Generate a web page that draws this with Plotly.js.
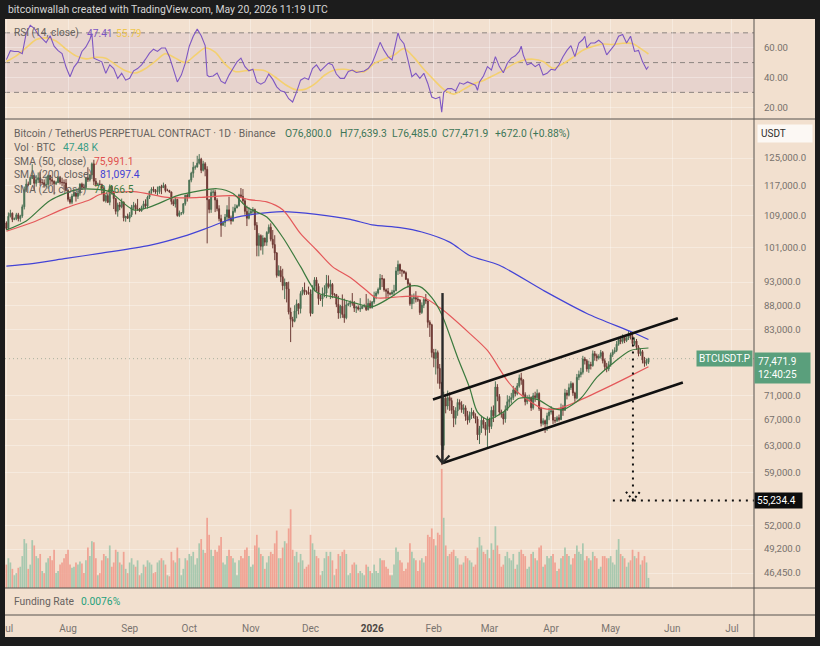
<!DOCTYPE html>
<html><head><meta charset="utf-8">
<script src="https://cdn.plot.ly/plotly-3.0.1.min.js"></script>
<style>html,body{margin:0;padding:0;background:#1c1c1c;}#chart{width:820px;height:646px;}</style>
</head><body><div id="chart"></div>
<script>
// ---------- DATA (daily candles, BTCUSDT.P, values in thousand USDT) ----------
const startDate = Date.UTC(2025, 6, 1); // first candle: 2025-07-01
const firstOpenK = 107.1;
const closeK = [
105.7,108.8,109.6,108.0,108.2,109.2,108.2,108.9,111.3,115.9,117.5,117.4,119.1,119.8,117.7,118.7,119.3,117.9,117.9,117.3,117.4,119.9,118.7,118.3,117.6,117.9,119.4,118.0,117.9,117.8,115.7,
113.3,112.5,114.2,115.0,114.1,115.0,117.5,116.6,116.5,119.3,118.7,120.1,123.3,118.3,117.4,117.5,117.4,116.3,112.9,114.3,112.5,116.9,115.4,113.5,110.1,111.8,111.3,112.6,108.4,108.8,108.3,
109.2,111.2,111.7,110.7,110.7,110.2,111.1,112.1,111.5,113.9,115.5,116.1,115.9,115.3,115.4,116.8,116.5,117.1,115.7,115.7,115.3,112.7,112.0,113.3,109.0,109.7,109.7,112.1,114.4,114.0,
118.6,120.6,122.3,122.4,123.5,124.7,121.4,123.3,121.7,113.2,110.6,115.2,115.3,113.1,110.8,108.2,106.5,107.2,108.6,110.5,108.4,107.6,110.1,111.0,111.6,114.5,114.1,112.9,110.1,108.3,109.6,
110.1,110.6,106.5,101.5,103.9,101.3,103.3,102.3,104.7,106.0,103.0,101.7,99.7,94.5,95.6,94.2,92.2,92.9,91.5,86.6,85.1,84.7,86.8,88.3,87.3,90.5,91.3,90.9,90.8,90.4,
86.3,91.3,93.5,92.1,89.4,89.3,90.4,90.6,92.7,92.0,92.5,90.3,90.3,88.2,86.4,87.8,86.1,85.4,88.1,88.3,88.6,88.5,87.4,87.6,87.2,87.3,87.8,87.8,87.1,88.4,87.5,
88.7,90.0,90.6,91.4,93.8,93.7,91.3,91.0,90.5,90.4,90.8,91.1,95.5,97.0,95.6,95.5,95.1,93.6,92.6,88.3,89.4,89.6,89.3,89.1,86.5,88.0,89.2,88.9,84.5,84.0,78.6,
77.5,78.6,75.7,73.0,63.0,70.5,69.2,70.6,70.1,68.5,67.2,68.4,69.8,69.4,68.6,68.9,67.5,66.9,67.8,68.2,67.6,67.1,64.6,65.6,66.9,66.2,65.4,67.0,
65.9,68.5,67.6,72.4,70.8,68.2,67.9,67.1,68.6,69.9,70.3,70.6,71.9,71.3,72.6,74.0,73.6,71.1,69.9,70.4,70.6,68.9,70.9,70.6,71.3,68.8,66.4,66.8,66.3,67.6,68.2,
68.4,66.9,66.8,67.3,67.0,68.9,68.5,71.4,71.0,72.3,73.0,71.4,70.5,74.1,74.6,75.0,77.4,77.1,75.6,76.4,76.2,78.4,78.0,77.6,77.9,78.6,77.1,76.0,75.6,76.4,
78.2,78.7,79.0,80.2,81.1,80.7,81.5,80.9,81.4,82.2,81.7,80.3,80.8,79.6,78.4,78.8,77.2,76.6,76.8,77.4719];
const highK = [
107.5,109.8,110.5,109.8,108.5,109.7,109.7,109.2,111.9,116.8,118.9,118.2,119.5,123.2,119.9,120.0,120.8,120.9,118.9,118.8,119.7,120.2,120.1,119.5,118.5,118.4,119.8,119.8,119.3,118.8,118.9,
116.1,114.0,114.8,115.7,115.1,115.7,117.7,117.9,117.6,119.4,122.3,120.3,123.7,124.5,119.2,117.9,118.6,117.6,116.8,114.6,114.8,117.4,117.0,115.6,113.7,112.4,112.6,113.5,112.7,108.9,109.5,
109.9,111.8,112.6,112.2,113.4,111.0,111.6,112.9,113.3,114.3,115.6,116.6,116.8,116.1,116.8,117.0,117.3,117.9,117.5,116.2,115.9,115.4,113.3,113.9,113.4,110.3,109.8,112.3,114.5,114.8,
118.7,121.0,123.9,122.9,125.7,126.2,125.1,124.2,123.8,122.6,113.4,115.9,116.0,115.9,113.6,111.7,109.2,107.5,109.4,111.7,114.0,109.0,111.3,112.0,111.9,114.8,116.4,116.1,113.6,111.6,111.2,
110.6,111.2,110.8,107.3,104.5,104.2,104.0,103.4,105.0,106.7,107.0,105.3,104.0,99.9,96.8,96.6,96.0,93.8,93.0,93.1,87.5,85.6,88.0,89.2,88.4,91.0,91.9,92.9,91.2,92.0,
91.4,92.3,94.1,94.1,92.7,90.3,91.8,92.3,94.6,94.5,93.5,92.8,90.6,90.4,90.0,88.1,90.3,89.4,89.0,88.6,89.0,90.6,88.9,87.9,88.0,89.5,88.0,88.3,90.4,89.4,89.0,
88.9,90.9,91.0,91.8,94.8,94.6,93.8,91.6,91.7,90.8,91.3,92.4,96.4,97.9,97.2,95.9,95.6,95.4,93.9,92.9,90.3,90.5,91.0,89.8,89.3,88.6,89.5,90.4,89.0,84.9,84.2,
79.3,79.3,79.0,76.5,73.3,71.6,71.0,71.8,71.5,70.6,69.2,69.0,70.4,70.3,70.0,69.5,69.3,68.4,68.3,68.9,68.5,68.0,67.5,66.0,67.6,67.3,66.6,67.5,
67.3,69.1,69.3,73.4,72.9,71.2,68.6,68.3,69.3,71.0,70.9,71.4,72.6,72.3,73.1,74.6,74.9,73.8,71.5,71.0,71.1,70.8,71.4,71.6,72.0,71.5,69.0,67.2,67.0,68.1,68.9,
69.2,68.7,67.4,67.6,67.8,69.6,69.4,72.1,71.9,73.0,73.4,73.2,71.6,74.7,75.3,75.8,78.0,77.8,77.4,77.1,76.9,79.0,78.9,78.4,78.3,79.1,78.9,77.5,76.7,77.0,
78.6,79.2,79.6,80.8,81.6,81.8,82.1,81.9,81.7,82.8,82.6,82.4,81.5,81.2,80.0,79.4,79.1,77.8,77.5,77.6393];
const lowK = [
105.3,105.6,108.5,107.3,107.8,107.8,107.5,107.4,108.4,110.6,115.3,116.9,117.3,118.9,115.7,116.8,117.8,116.9,117.3,116.5,116.6,116.2,117.3,117.2,114.7,117.2,117.8,117.4,116.9,115.8,115.5,
112.7,112.0,112.0,114.0,112.7,113.4,114.3,115.9,116.3,116.4,118.1,118.2,118.9,117.2,116.8,117.2,117.2,114.7,112.7,112.4,112.3,111.7,114.6,110.7,109.3,108.7,110.4,110.9,107.5,107.4,108.1,
107.3,108.6,110.6,109.3,110.2,110.0,110.0,110.6,110.9,110.8,113.4,114.8,115.2,114.8,114.4,114.8,114.7,116.4,115.2,115.5,115.1,111.9,111.5,111.1,108.7,108.6,109.1,109.3,111.6,112.7,
113.9,118.0,119.3,121.6,122.2,123.1,120.6,121.1,119.7,102.0,109.6,109.7,113.9,109.9,110.1,107.5,103.6,106.4,106.1,107.5,107.5,106.7,107.4,109.7,110.9,111.3,113.8,112.1,109.2,106.3,108.0,
109.4,109.5,105.3,98.9,98.9,100.3,99.3,101.4,101.4,104.3,102.5,100.8,98.0,94.0,94.3,93.0,91.2,89.3,88.6,86.1,80.6,83.5,84.5,85.3,86.1,86.3,90.1,90.2,90.2,90.3,
85.7,86.2,91.0,90.9,88.1,88.9,87.7,89.7,89.5,91.6,89.3,89.5,89.8,87.6,85.2,85.3,85.4,84.4,85.1,87.8,87.6,87.9,86.6,86.4,86.9,86.6,87.2,87.5,86.8,86.9,87.3,
87.3,88.3,89.3,90.3,91.3,91.9,90.9,89.4,89.8,90.1,90.2,90.0,91.0,94.6,94.8,94.2,94.8,93.5,91.8,87.9,87.2,88.3,88.6,88.7,86.0,86.2,87.4,88.3,83.4,81.6,77.7,
75.9,74.6,73.0,72.1,60.1,62.3,68.0,68.6,68.4,67.9,65.8,66.2,67.6,68.6,68.1,67.9,66.8,66.2,66.5,67.1,67.2,66.4,63.8,63.2,64.9,65.6,64.5,62.6,
64.9,65.5,66.6,67.3,70.0,67.7,67.3,66.2,66.5,68.4,69.2,69.6,70.2,70.8,71.0,72.3,72.8,70.6,69.3,69.5,70.0,68.4,68.6,69.9,70.2,68.4,65.9,66.1,64.9,65.2,66.9,
67.8,66.3,66.4,66.6,66.7,66.9,67.6,68.4,70.3,70.8,71.9,70.9,69.9,70.3,73.6,74.1,74.6,76.4,75.1,74.9,75.5,76.0,77.1,77.0,77.3,77.5,76.6,75.4,75.0,75.2,
76.0,77.8,78.4,78.7,79.9,80.2,80.3,80.4,80.6,81.0,81.1,79.8,79.9,79.1,77.9,78.0,76.6,76.0,76.2,76.485];
// daily volume, thousand BTC
const volumeK = [
110,140,120,90,60,70,95,100,150,230,210,90,110,225,200,150,140,160,80,70,120,140,150,130,180,70,80,110,120,140,160,
180,110,95,100,120,110,125,115,70,130,190,150,220,215,140,60,70,130,160,150,140,200,100,120,180,170,120,110,170,90,70,
120,140,110,100,130,60,70,110,100,130,120,110,70,75,120,130,140,130,110,60,55,170,130,120,190,140,60,90,140,130,
160,150,170,110,140,210,230,180,165,330,250,180,150,180,170,200,240,120,110,150,180,150,140,120,60,130,150,140,180,190,150,
100,110,200,250,190,160,150,90,120,150,170,160,210,270,140,140,190,220,210,280,370,180,150,170,120,160,130,90,100,110,
250,210,180,150,140,60,80,140,170,150,170,130,60,90,160,150,170,180,160,60,70,110,120,110,70,80,70,60,110,100,80,
70,110,80,70,140,130,130,100,90,60,60,110,190,170,130,120,80,90,120,210,170,140,130,80,130,140,120,150,250,240,280,
230,200,260,250,560,330,200,150,160,170,180,150,140,110,110,120,150,140,130,120,100,110,190,240,200,170,160,180,
140,210,180,290,200,160,100,110,150,170,140,130,160,90,110,170,180,160,150,90,100,160,170,140,130,190,200,100,110,150,140,
150,160,120,80,90,140,150,190,160,150,110,140,160,200,170,160,210,130,150,140,130,170,150,140,90,100,150,150,140,140,
150,120,110,180,230,160,150,140,100,120,130,180,150,140,170,110,130,150,120,47.48];

// moving averages (day offset from startDate, value in thousand USDT)
const sma20Day = [0,10,22,36,46,52,64,72,86,97,106,114,121,131,139,148,156,166,176,184,193,202,208,214,219,227,233,237,242,250,258,267,275,280,289,297,305,314,323];
const sma20K   = [105.3,107.6,113.0,116.0,116.0,115.3,110.5,111.2,114.3,115.6,116.2,114.9,111.2,108.6,103.5,96.5,90.8,89.6,88.4,87.7,89.6,92.0,92.0,89.6,86.1,77.7,72.3,68.2,67.0,68.2,70.5,70.3,68.8,68.6,70.5,74.1,76.6,79.0,79.4665];
const sma50Day = [0,13,30,42,47,64,81,97,114,122,131,139,148,156,164,173,181,186,198,209,219,233,242,252,258,270,278,288,302,312,323];
const sma50K   = [105.0,107.2,111.0,113.2,114.6,115.4,113.8,113.8,114.3,113.2,112.6,110.5,104.4,100.4,96.5,94.0,91.2,89.6,89.8,89.8,87.2,82.3,79.0,73.5,71.3,68.8,68.8,70.1,72.3,74.0,75.9911];
const sma200Day = [0,13,30,47,72,89,101,114,124,139,156,173,184,198,209,223,233,248,270,292,315,323];
const sma200K   = [96.6,97.2,98.4,99.6,101.5,103.7,105.8,108.3,109.3,110.0,109.3,108.0,106.6,105.9,104.8,102.3,99.1,96.8,91.2,86.3,82.5,81.0974];

// RSI (14) and its moving average
const rsiDay = [0,2,4,6,8,10,12,14,16,18,20,22,24,26,28,30,32,34,36,38,40,42,43,44,46,48,50,52,54,56,58,60,62,64,66,68,70,72,74,76,78,80,82,84,86,88,90,92,94,96,98,100,101,102,104,106,108,110,112,114,116,118,120,122,124,126,128,130,132,134,136,138,140,142,144,146,148,150,152,154,156,158,160,162,164,166,168,170,172,174,176,178,180,182,184,186,188,190,192,194,196,197,198,200,202,204,206,208,210,212,214,216,218,219,220,222,224,226,228,230,232,234,236,237,238,240,242,244,246,248,250,252,254,256,258,259,260,262,264,266,268,270,272,274,276,278,280,282,284,286,288,290,291,292,294,296,298,300,302,304,306,308,310,312,314,316,318,320,322,323];
const rsiValue = [52,58,57.5,57.5,56,70,75,73,69,66,63.5,68,61,58,56,47,40.5,47,50.5,57.5,60.5,65.5,69.5,53,52,50.5,42.8,48.5,46,39.4,42.8,38.2,39.4,44.5,46,48.5,52.3,56.4,59,57.5,59.8,59.8,54,45,37,41.6,49.6,61,67.7,72.5,68,61.4,41.5,40.5,41,43,37.5,36,41.6,46,50.5,53,47.3,44.5,45.5,37,35.5,37,42.3,38.7,33.7,31,30.3,25.7,23.5,30.3,38.2,39.8,38.7,46,48.5,44.5,47.3,49.6,48.5,42.3,39.4,39.4,44,45,43.4,44,44.3,46,49.6,56.4,63.6,58.2,54,51.8,63,70,66,62.7,51.8,40.5,42.8,39.4,42.8,36,26.9,25.7,26.9,16.7,30,32.5,32.5,31,36.4,35.5,37,36,34.8,31.4,37,41,47.3,45,54,47.3,43.2,49.6,53,54.6,57.5,61,55.2,48.5,49.6,47.3,49,41.6,42.8,45.5,45,48.5,54,58.2,61.4,54,63.2,65.5,67.7,60,63.2,63.2,65,62.7,55.2,58.6,62,67.7,68.9,63.2,67.7,57.5,58.2,50.7,45.5,47.41];
const rsiMaDay = [0,5,10,15,20,25,30,35,40,45,50,55,60,65,70,75,80,85,90,95,100,105,110,115,120,125,130,135,140,145,150,155,160,165,170,175,180,185,190,195,200,205,210,215,220,225,230,235,240,245,250,255,260,265,270,275,280,285,290,295,300,305,310,315,320,323];
const rsiMaValue = [50.7,54.5,60,65.5,66.6,64.5,59,54.5,52.5,53.6,53,48.5,44.5,43,46,51,56,53,50,55,59.8,57,49,44,44.5,45.2,44.5,40.5,35.5,32,32,35.5,41.5,45,45.5,44.5,43.9,49.3,52.3,55,59.5,53.5,45.5,38.5,32,28.8,32,35.8,38,41.3,44.7,49,51.6,52.3,50.8,46.2,49.2,53.5,58.3,60.8,62.5,62.2,63,62.8,58.5,55.79];

// user drawings on the chart (day offset, thousand USDT)
const channelUpperDay = [214.6, 337.8], channelUpperK = [70.3, 85.3];
const channelLowerDay = [219.6, 340.3], channelLowerK = [60.4, 73.2];
const arrowDay = [219.4, 219.4], arrowK = [90.6, 60.4];
const arrowHeadDay = [216.4, 219.4, 222.9], arrowHeadK = [61.5, 60.4, 61.5];
const targetVDay = [315.2, 315.2], targetVK = [81.5, 55.2344];
const targetHDay = [305.1, 376.1], targetHK = [55.2344, 55.2344];
const targetHeadDay = [311.7, 315.2, 318.7], targetHeadK = [56.4, 55.2344, 56.4];
const lastPriceLineDay = [-0.7, 376.1];

// axis labels
const monthTicks = ['2025-07-01','2025-08-01','2025-09-01','2025-10-01','2025-11-01','2025-12-01','2026-01-01','2026-02-01','2026-03-01','2026-04-01','2026-05-01','2026-06-01','2026-07-01'];
const monthLabels = ['Jul','Aug','Sep','Oct','Nov','Dec','<b><span style="color:#4a4643">2026</span></b>','Feb','Mar','Apr','May','Jun','Jul'];
const priceTicks = [125000,117000,109000,101000,93000,88000,83000,71000,67000,63000,59000,52000,49200,46450];
const rsiTicks = [20,40,60];
const lastPrice = 77471.9, targetPrice = 55234.4;

// ---------- BUILD ----------
const DAY = 864e5;
const pad = n => String(n).padStart(2,'0');
function dayToDate(d){ const t = new Date(startDate + d*DAY);
  return t.getUTCFullYear()+'-'+pad(t.getUTCMonth()+1)+'-'+pad(t.getUTCDate())+' '+pad(t.getUTCHours())+':'+pad(t.getUTCMinutes()); }
const dates = closeK.map((_, i) => dayToDate(i));
const openK = closeK.map((_, i) => i === 0 ? firstOpenK : closeK[i-1]);
const K = a => a.map(v => v*1000);
const D = a => a.map(dayToDate);

const W=820, H=646, L=5, R=66, T=19, B=31, PW=W-L-R, PH=H-T-B;
const px = x => (x - L)/PW;
const py = y => (H - B - y)/PH;
const FONT = 'Roboto, "Noto Sans", sans-serif';
const fmt = v => v.toLocaleString('en-US',{minimumFractionDigits:1, maximumFractionDigits:1});

const volColors = closeK.map((c,i) => c >= openK[i] ? '#a8c8af' : '#f0a394');

const traces = [
  {type:'bar', x:dates, y:volumeK, xaxis:'x', yaxis:'y', marker:{color:volColors, line:{width:0}}, hoverinfo:'skip'},
  {type:'candlestick', x:dates, open:K(openK), high:K(highK), low:K(lowK), close:K(closeK), xaxis:'x', yaxis:'y2',
   increasing:{line:{color:'#4c7055', width:1}, fillcolor:'#3a7a48'},
   decreasing:{line:{color:'#6d3a35', width:1}, fillcolor:'#7a2724'}, whiskerwidth:0, hoverinfo:'skip'},
  {type:'scatter', mode:'lines', x:D(sma200Day), y:K(sma200K), yaxis:'y2', line:{color:'#4343d6', width:1.2, shape:'spline', smoothing:0.8}, hoverinfo:'skip'},
  {type:'scatter', mode:'lines', x:D(sma50Day), y:K(sma50K), yaxis:'y2', line:{color:'#e4585a', width:1.2, shape:'spline', smoothing:0.8}, hoverinfo:'skip'},
  {type:'scatter', mode:'lines', x:D(sma20Day), y:K(sma20K), yaxis:'y2', line:{color:'#3b7a3e', width:1.2, shape:'spline', smoothing:0.8}, hoverinfo:'skip'},
  {type:'scatter', mode:'lines', x:D(lastPriceLineDay), y:[lastPrice,lastPrice], yaxis:'y2', line:{color:'rgba(110,140,120,0.55)', width:1, dash:'1px,3px'}, hoverinfo:'skip'},
  {type:'scatter', mode:'lines', x:D(channelUpperDay), y:K(channelUpperK), yaxis:'y2', line:{color:'#111', width:2.6}, hoverinfo:'skip'},
  {type:'scatter', mode:'lines', x:D(channelLowerDay), y:K(channelLowerK), yaxis:'y2', line:{color:'#111', width:2.6}, hoverinfo:'skip'},
  {type:'scatter', mode:'lines', x:D(arrowDay), y:K(arrowK), yaxis:'y2', line:{color:'#2a2a2a', width:2.4}, hoverinfo:'skip'},
  {type:'scatter', mode:'lines', x:D(arrowHeadDay), y:K(arrowHeadK), yaxis:'y2', line:{color:'#2a2a2a', width:2.2}, hoverinfo:'skip'},
  {type:'scatter', mode:'lines', x:D(targetVDay), y:K(targetVK), yaxis:'y2', line:{color:'#111', width:2, dash:'2px,5px'}, hoverinfo:'skip'},
  {type:'scatter', mode:'lines', x:D(targetHDay), y:K(targetHK), yaxis:'y2', line:{color:'#111', width:2, dash:'2px,5px'}, hoverinfo:'skip'},
  {type:'scatter', mode:'lines', x:D(targetHeadDay), y:K(targetHeadK), yaxis:'y2', line:{color:'#111', width:2, dash:'2px,3px'}, hoverinfo:'skip'},
  {type:'scatter', mode:'lines', x:D(rsiMaDay), y:rsiMaValue, yaxis:'y3', line:{color:'#f4d06f', width:1.6, shape:'spline', smoothing:0.8}, hoverinfo:'skip'},
  {type:'scatter', mode:'lines', x:D(rsiDay), y:rsiValue, yaxis:'y3', line:{color:'#7e57c2', width:1.1}, hoverinfo:'skip'}
];

function txt(x, y, text, color, size, extra){
  return Object.assign({xref:'paper', yref:'paper', x:px(x), y:py(y), xanchor:'left', yanchor:'middle',
    text:text, showarrow:false, font:{family:FONT, size:size||10, color:color}}, extra||{});
}
const GRAY = '#67625e', OHLC = '#3c7657';
const annotations = [
  txt(6, 9.5, 'bitcoinwallah created with TradingView.com, May 20, 2026 11:19 UTC', '#d6d6d6', 10.4),
  txt(12, 33, 'RSI (14, close)', GRAY, 10.2),
  txt(85, 33, '47.41', '#7e57c2', 10.2),
  txt(114, 33, '55.79', '#efc64f', 10.2),
  txt(12, 133, 'Bitcoin / TetherUS PERPETUAL CONTRACT · 1D · Binance', GRAY, 10.3),
  txt(283, 133, 'O76,800.0', OHLC, 10.3),
  txt(338, 133, 'H77,639.3', OHLC, 10.3),
  txt(390, 133, 'L76,485.0', OHLC, 10.3),
  txt(440, 133, 'C77,471.9', OHLC, 10.3),
  txt(493, 133, '+672.0 (+0.88%)', OHLC, 10.3),
  txt(12, 147, 'Vol · BTC', GRAY, 10.3),
  txt(61, 147, '47.48 K', '#3a9d86', 10.3),
  txt(12, 161, 'SMA (50, close)', GRAY, 10.3),
  txt(92, 161, '75,991.1', '#e0504e', 10.3),
  txt(12, 175, 'SMA (200, close)', GRAY, 10.3),
  txt(98, 175, '81,097.4', '#3f3fd4', 10.3),
  txt(12, 189, 'SMA (20, close)', GRAY, 10.3),
  txt(92, 189, '79,466.5', '#3d7b40', 10.3),
  txt(12, 601.5, 'Funding Rate', GRAY, 10.3),
  txt(79, 601.5, '0.0076%', '#26a07c', 10.3),
  txt(757, 133.5, 'USDT', '#2f2c2a', 10, {bgcolor:'#fcf8f4', borderpad:3, width:48, align:'left'}),
  {xref:'paper', yref:'y2', x:px(753), y:Math.log10(lastPrice), xanchor:'right', yanchor:'middle', showarrow:false,
   text:'BTCUSDT.P', bgcolor:'#5a9f7c', borderpad:2, font:{family:FONT, size:10, color:'#ffffff'}},
  {xref:'paper', yref:'y2', x:px(754), y:Math.log10(lastPrice), xanchor:'left', yanchor:'top', yshift:7, showarrow:false,
   text:fmt(lastPrice)+'<br>12:40:25', align:'left', width:49, bgcolor:'#5a9f7c', borderpad:3, font:{family:FONT, size:10, color:'#ffffff'}},
  {xref:'paper', yref:'y2', x:px(754), y:Math.log10(targetPrice), xanchor:'left', yanchor:'middle', showarrow:false,
   text:fmt(targetPrice), align:'left', width:43, bgcolor:'#0d0d0d', borderpad:2, font:{family:FONT, size:10, color:'#ffffff'}}
];

const SEP = '#57534f', FRAME = '#1c1c1c';
const shapes = [
  {type:'rect', xref:'paper', yref:'y3', x0:0, x1:1, y0:30, y1:70, fillcolor:'rgba(135,95,200,0.10)', line:{width:0}, layer:'below'},
  ...[70,50,30].map(v => ({type:'line', xref:'paper', yref:'y3', x0:0, x1:1, y0:v, y1:v, line:{color:'#8d8580', width:1, dash:'5px,4px'}, layer:'below'})),
  ...[119,588,615].map(y => ({type:'line', xref:'paper', yref:'paper', x0:px(5), x1:px(815), y0:py(y), y1:py(y), line:{color:SEP, width:1}})),
  {type:'line', xref:'paper', yref:'paper', x0:px(754), x1:px(754), y0:py(637), y1:py(19), line:{color:SEP, width:1}},
  {type:'rect', xref:'paper', yref:'paper', x0:px(0), x1:px(820), y0:py(19), y1:py(0), fillcolor:FRAME, line:{width:0}},
  {type:'rect', xref:'paper', yref:'paper', x0:px(0), x1:px(820), y0:py(646), y1:py(637), fillcolor:FRAME, line:{width:0}},
  {type:'rect', xref:'paper', yref:'paper', x0:px(0), x1:px(5), y0:py(646), y1:py(0), fillcolor:FRAME, line:{width:0}},
  {type:'rect', xref:'paper', yref:'paper', x0:px(815), x1:px(820), y0:py(646), y1:py(0), fillcolor:FRAME, line:{width:0}}
];

const GRID = 'rgba(255,255,255,0.32)';
const layout = {
  width:W, height:H, margin:{l:L, r:R, t:T, b:B, pad:0},
  paper_bgcolor:'#f2e0cf', plot_bgcolor:'#f2e0cf',
  showlegend:false, hovermode:false, dragmode:false, bargap:0.12,
  font:{family:FONT, size:10, color:'#77716c'},
  xaxis:{type:'date', range:[dayToDate(-0.7), dayToDate(376.1)], anchor:'free', position:0,
    tickmode:'array', tickvals:monthTicks, ticktext:monthLabels, ticks:'outside', ticklen:4, tickcolor:'rgba(0,0,0,0)',
    ticklabeloverflow:'allow',
    showgrid:true, gridcolor:GRID, showline:false, zeroline:false, rangeslider:{visible:false},
    tickfont:{family:FONT, size:10, color:'#7a746f'}, fixedrange:true},
  yaxis:{domain:[py(588), py(120)], range:[0, 2200], visible:false, fixedrange:true},
  yaxis2:{overlaying:'y', anchor:'x', side:'right', type:'log', range:[Math.log10(44830), Math.log10(136900)],
    tickmode:'array', tickvals:priceTicks, ticktext:priceTicks.map(fmt), ticks:'outside', ticklen:7, tickcolor:'rgba(0,0,0,0)',
    showgrid:true, gridcolor:GRID, zeroline:false, showline:false, tickfont:{family:FONT, size:9.6, color:'#77716c'}, fixedrange:true},
  yaxis3:{domain:[py(119), 1], anchor:'x', side:'right', range:[12.1, 79.3],
    tickmode:'array', tickvals:rsiTicks, ticktext:rsiTicks.map(v => v.toFixed(2)), ticks:'outside', ticklen:7, tickcolor:'rgba(0,0,0,0)',
    showgrid:true, gridcolor:GRID, zeroline:false, showline:false, tickfont:{family:FONT, size:9.6, color:'#77716c'}, fixedrange:true},
  shapes:shapes, annotations:annotations
};

Plotly.newPlot('chart', traces, layout, {displayModeBar:false, staticPlot:true});
</script></body></html>
